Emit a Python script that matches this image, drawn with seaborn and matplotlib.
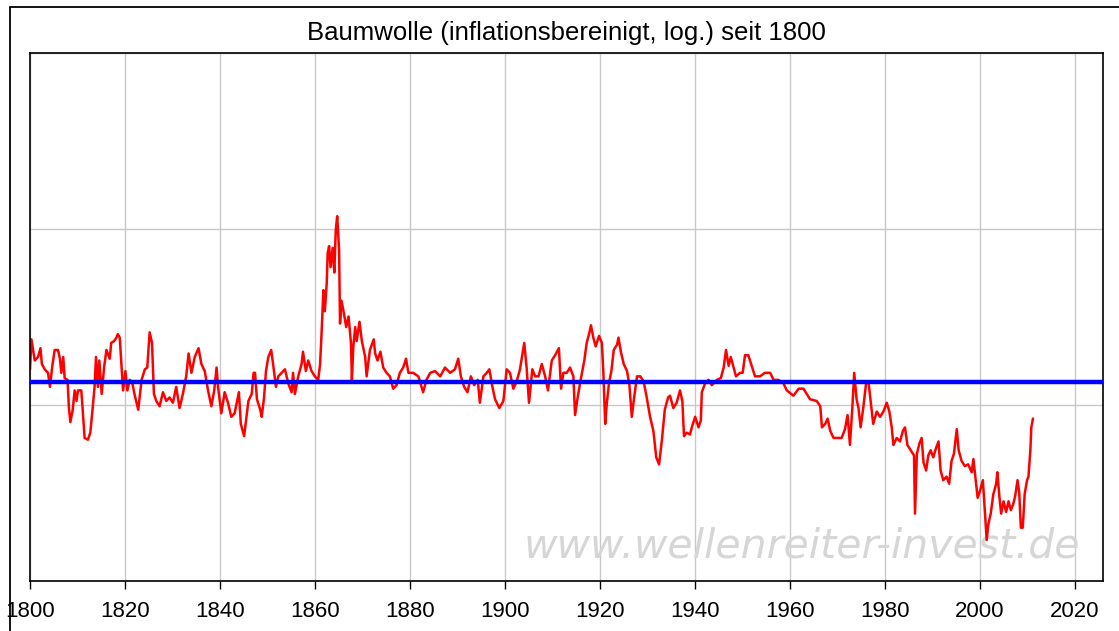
import matplotlib
matplotlib.use("Agg")
import matplotlib.pyplot as plt
import pandas as pd
import seaborn as sns

# cotton price, inflation adjusted, log10 scale (0 = bottom of chart)
years = [
    1800.0, 1800.3, 1801.0, 1801.7, 1802.2, 1802.5, 1803.1, 1803.8, 1804.2, 1804.7,
    1805.2, 1805.9, 1806.3, 1806.6, 1807.0, 1807.3, 1807.9, 1808.2, 1808.5, 1809.0,
    1809.4, 1809.8, 1810.1, 1810.8, 1811.1, 1811.5, 1812.2, 1812.7, 1813.2, 1813.6,
    1813.9, 1814.3, 1814.6, 1815.1, 1815.6, 1816.1, 1816.8, 1817.1, 1817.7, 1818.2,
    1818.5, 1818.9, 1819.2, 1819.6, 1820.1, 1820.5, 1821.0, 1821.5, 1822.0, 1822.8,
    1823.5, 1824.2, 1824.7, 1825.2, 1825.7, 1826.1, 1826.6, 1827.3, 1828.0, 1828.7,
    1829.4, 1830.1, 1830.8, 1831.5, 1832.2, 1832.9, 1833.4, 1834.0, 1834.7, 1835.5,
    1836.1, 1836.8, 1837.5, 1838.2, 1838.8, 1839.3, 1839.6, 1840.3, 1841.0, 1841.7,
    1842.4, 1843.1, 1844.0, 1844.4, 1845.1,
    1846.0, 1846.7, 1847.1, 1847.4, 1847.8, 1848.5, 1848.8, 1849.3, 1849.7, 1850.2,
    1850.8, 1851.2, 1851.8, 1852.3, 1853.0, 1853.7, 1854.4, 1855.1, 1855.4, 1855.8,
    1856.5, 1857.2, 1857.5, 1858.1, 1858.6, 1859.3, 1860.0, 1860.7, 1861.1, 1861.4,
    1861.8, 1862.1, 1862.5, 1862.7, 1863.0, 1863.3, 1863.75, 1864.1, 1864.4, 1864.7,
    1865.1, 1865.3, 1865.6, 1866.1, 1866.6, 1867.1, 1867.6, 1867.8, 1868.1, 1868.5,
    1868.8, 1869.4, 1869.9, 1870.6, 1870.9, 1871.6, 1872.4, 1872.7, 1873.2, 1873.8,
    1874.4, 1875.1, 1875.8, 1876.5, 1877.2, 1877.9, 1878.6, 1879.2, 1879.7, 1880.7,
    1881.8, 1882.8, 1883.5, 1884.3, 1885.3, 1886.4, 1887.4, 1888.5,
    1889.5, 1890.2, 1890.75, 1891.45, 1892.15, 1892.85, 1893.55, 1894.3, 1894.75, 1895.5,
    1896.2, 1896.75, 1897.4, 1897.95, 1898.85, 1899.7, 1900.4, 1901.1, 1901.8, 1902.5,
    1903.2, 1904.1, 1904.6, 1905.1, 1905.8, 1906.4, 1907.1, 1907.8, 1908.5, 1909.1,
    1909.9, 1910.6, 1911.4, 1911.85, 1912.35, 1913.05, 1913.75, 1914.45, 1914.8, 1915.35,
    1916.05, 1916.75, 1917.25, 1917.75, 1918.15, 1918.65, 1919.15, 1919.85, 1920.45, 1920.75,
    1921.15, 1921.5, 1921.95, 1922.45, 1922.95, 1923.65, 1923.95, 1924.45, 1925.05, 1925.75,
    1926.25, 1926.75, 1927.25, 1927.85, 1928.55, 1929.25, 1929.9, 1930.6, 1931.3, 1931.9,
    1932.5, 1933.1, 1933.7, 1934.4,
    1934.8, 1935.5, 1936.2, 1936.9, 1937.4, 1937.75, 1938.3, 1939.0, 1939.5, 1940.1,
    1940.8, 1941.3, 1941.5, 1942.2, 1942.9, 1943.6, 1944.7, 1945.5, 1946.1, 1946.6,
    1947.15, 1947.6, 1948.2, 1948.7, 1949.55, 1950.1, 1950.6, 1951.3, 1952.0, 1952.7,
    1953.75, 1954.8, 1955.9, 1956.6, 1957.6, 1958.7, 1959.4, 1960.8, 1961.9, 1962.9,
    1964.3, 1965.7, 1966.45, 1966.8, 1967.5, 1968.0, 1968.55, 1969.25, 1970.3, 1970.95,
    1971.65, 1972.2, 1972.7, 1973.2, 1973.6, 1974.1, 1974.5, 1974.95, 1975.5, 1976.1,
    1976.6, 1977.1, 1977.6, 1978.35,
    1979.05, 1979.75, 1980.45, 1981.0, 1981.5, 1981.85, 1982.55, 1983.25, 1983.85, 1984.3,
    1984.8, 1985.5, 1986.2, 1986.4, 1986.8, 1987.35, 1987.8, 1988.2, 1988.75, 1989.2,
    1989.7, 1990.25, 1990.8, 1991.35, 1991.8, 1992.35, 1993.05, 1993.6, 1994.1, 1994.6,
    1995.2, 1995.6, 1996.2, 1996.9, 1997.6, 1998.35, 1998.7, 1999.2, 1999.6, 2000.1,
    2000.7, 2001.15, 2001.5, 2001.85, 2002.35, 2002.9, 2003.5, 2003.75, 2004.2, 2004.55,
    2005.05, 2005.6, 2006.1, 2006.6, 2007.15, 2007.5, 2008.0, 2008.35, 2008.7, 2009.1,
    2009.5, 2010.0, 2010.3, 2010.7, 2010.9, 2011.25,
]
log_price = [
    1.20, 1.37, 1.25, 1.27, 1.32, 1.23, 1.20, 1.18, 1.10, 1.22,
    1.31, 1.31, 1.26, 1.18, 1.27, 1.15, 1.14, 0.98, 0.90, 0.97,
    1.08, 1.02, 1.08, 1.08, 0.97, 0.81, 0.80, 0.84, 0.98, 1.10,
    1.27, 1.10, 1.25, 1.06, 1.21, 1.31, 1.26, 1.35, 1.36, 1.38,
    1.40, 1.38, 1.25, 1.08, 1.19, 1.08, 1.14, 1.13, 1.06, 0.97,
    1.14, 1.20, 1.21, 1.41, 1.35, 1.06, 1.02, 0.99, 1.07, 1.02,
    1.04, 1.01, 1.10, 0.98, 1.06, 1.16, 1.29, 1.18, 1.27, 1.32,
    1.23, 1.19, 1.08, 0.99, 1.08, 1.21, 1.10, 0.95, 1.07, 1.01,
    0.93, 0.95, 1.07, 0.89, 0.82,
    1.02, 1.06, 1.18, 1.18, 1.03, 0.97, 0.93, 1.04, 1.19, 1.27,
    1.31, 1.23, 1.10, 1.16, 1.18, 1.20, 1.12, 1.07, 1.18, 1.06,
    1.16, 1.23, 1.30, 1.19, 1.25, 1.19, 1.16, 1.14, 1.23, 1.40,
    1.65, 1.53, 1.69, 1.86, 1.90, 1.78, 1.89, 1.75, 1.99, 2.07,
    1.88, 1.46, 1.59, 1.52, 1.44, 1.50, 1.35, 1.14, 1.33, 1.44,
    1.36, 1.47, 1.36, 1.27, 1.16, 1.31, 1.37, 1.29, 1.25, 1.30,
    1.21, 1.18, 1.16, 1.09, 1.11, 1.18, 1.21, 1.26, 1.18, 1.18,
    1.16, 1.07, 1.14, 1.18, 1.19, 1.16, 1.21, 1.18,
    1.20, 1.26, 1.16, 1.10, 1.07, 1.16, 1.11, 1.14, 1.01, 1.16,
    1.18, 1.20, 1.10, 1.03, 0.98, 1.02, 1.20, 1.18, 1.09, 1.13,
    1.20, 1.35, 1.21, 1.01, 1.20, 1.16, 1.16, 1.23, 1.16, 1.08,
    1.25, 1.28, 1.32, 1.09, 1.18, 1.18, 1.21, 1.16, 0.94, 1.04,
    1.15, 1.25, 1.35, 1.40, 1.45, 1.38, 1.33, 1.39, 1.35, 1.19,
    0.89, 1.01, 1.12, 1.19, 1.31, 1.34, 1.38, 1.30, 1.23, 1.19,
    1.11, 0.93, 1.04, 1.16, 1.16, 1.13, 1.04, 0.93, 0.85, 0.70,
    0.66, 0.80, 0.97, 1.04,
    1.05, 0.98, 1.01, 1.08, 1.02, 0.82, 0.84, 0.83, 0.88, 0.93,
    0.87, 0.91, 1.07, 1.12, 1.14, 1.11, 1.14, 1.15, 1.21, 1.31,
    1.22, 1.27, 1.21, 1.16, 1.18, 1.18, 1.28, 1.28, 1.22, 1.16,
    1.16, 1.18, 1.18, 1.14, 1.14, 1.12, 1.08, 1.05, 1.09, 1.09,
    1.03, 1.02, 0.99, 0.87, 0.89, 0.92, 0.85, 0.81, 0.81, 0.81,
    0.86, 0.94, 0.77, 0.98, 1.18, 1.03, 0.98, 0.87, 0.98, 1.12,
    1.13, 1.01, 0.89, 0.96,
    0.93, 0.96, 1.01, 0.96, 0.87, 0.77, 0.81, 0.79, 0.85, 0.87,
    0.77, 0.74, 0.71, 0.38, 0.72, 0.78, 0.81, 0.67, 0.625, 0.71,
    0.74, 0.70, 0.75, 0.79, 0.625, 0.57, 0.59, 0.55, 0.68, 0.72,
    0.86, 0.74, 0.68, 0.65, 0.66, 0.615, 0.69, 0.57, 0.47, 0.51,
    0.57, 0.38, 0.23, 0.32, 0.38, 0.49, 0.55, 0.615, 0.47, 0.38,
    0.45, 0.39, 0.45, 0.40, 0.44, 0.48, 0.57, 0.50, 0.30, 0.30,
    0.49, 0.57, 0.59, 0.74, 0.87, 0.92,
]
mean_level = 1.13
tick_years = [1800, 1820, 1840, 1860, 1880, 1900, 1920, 1940, 1960, 1980, 2000, 2020]
decades = [0, 1, 2, 3]

sns.set_style("white")
plt.rcParams['font.family'] = ['Liberation Sans', 'DejaVu Sans']

fig = plt.figure(figsize=(11.19, 6.31), dpi=100)
ax = fig.add_axes([30 / 1119, 1 - 580.5 / 631, 1073 / 1119, 528 / 631])

# outer frame of the picture
fig.add_artist(plt.Rectangle((10 / 1119, -0.05), 1.2, 1 - 7 / 631 + 0.05,
                             transform=fig.transFigure, fill=False,
                             edgecolor="black", lw=1.3))

df = pd.DataFrame({"Jahr": years, "Wert": log_price})

ax.set_axisbelow(True)
ax.grid(True, color="#c8c8c8", lw=1)

ax.text(0.979, 0.066, "www.wellenreiter-invest.de", transform=ax.transAxes,
        ha="right", va="center", fontsize=29.5, style="italic",
        family="DejaVu Sans", color="#d6d6d6", zorder=1)

sns.lineplot(data=df, x="Jahr", y="Wert", color="#ff0000", lw=1.8,
             ax=ax, zorder=2)
ax.axhline(mean_level, color="#0000ff", lw=3.2, zorder=3)

ax.set_xlim(1800, 2026)
ax.set_ylim(0, 3)
ax.set_xticks(tick_years)
ax.set_yticks(decades)
ax.set_xlabel("")
ax.set_ylabel("")
ax.tick_params(axis="x", direction="out", length=6, width=1, color="black",
               labelsize=16, labelcolor="black", pad=8.5, bottom=True)
ax.tick_params(axis="y", left=False, labelleft=False)
for sp in ax.spines.values():
    sp.set_color("black")
    sp.set_linewidth(1.2)

ax.set_title("Baumwolle (inflationsbereinigt, log.) seit 1800", fontsize=18.5,
             color="black", pad=9)

fig.savefig("out.png", dpi=100)
